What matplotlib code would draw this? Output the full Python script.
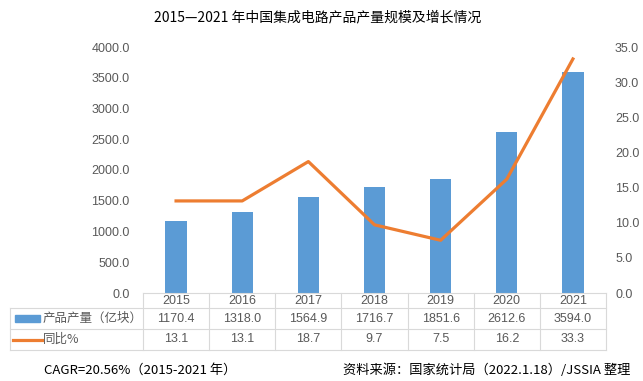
import matplotlib
matplotlib.use('Agg')
import matplotlib.pyplot as plt
import matplotlib.transforms as mtransforms
from matplotlib.lines import Line2D
from matplotlib.patches import Rectangle

plt.rcParams['font.family'] = ['Liberation Sans', 'Noto Sans CJK SC', 'DejaVu Sans']

years = ['2015', '2016', '2017', '2018', '2019', '2020', '2021']
output = [1170.4, 1318.0, 1564.9, 1716.7, 1851.6, 2612.6, 3594.0]
growth = [13.1, 13.1, 18.7, 9.7, 7.5, 16.2, 33.3]
output_label = '产品产量（亿块）'
growth_label = '同比%'

W, H = 643, 381
fig = plt.figure(figsize=(W / 100, H / 100), dpi=100)

def fx(px):
    return px / W

def fy(py):
    return 1 - py / H

bar_color = '#5B9BD5'
line_color = '#ED7D31'
tick_color = '#595959'
grid_color = '#D9D9D9'
cjk = ['Noto Sans CJK SC', 'DejaVu Sans']

ax = fig.add_axes([fx(143), fy(293), fx(606) - fx(143), fy(47) - fy(293)])
x = list(range(len(years)))
ax.bar(x, output, width=0.32, color=bar_color, zorder=2)
ax.set_xlim(-0.5, len(years) - 0.5)
ax.set_ylim(0, 4000)
ax.set_yticks(range(0, 4001, 500))
ax.set_yticklabels([f'{v:.1f}' for v in range(0, 4001, 500)])
ax.set_xticks([])
for s in ax.spines.values():
    s.set_visible(False)
ax.tick_params(axis='y', length=0, colors=tick_color, labelsize=9, pad=9.5)

ax2 = ax.twinx()
ax2.plot(x, growth, color=line_color, linewidth=2.3, zorder=3)
ax2.set_ylim(0, 35)
ax2.set_yticks(range(0, 36, 5))
ax2.set_yticklabels([f'{v:.1f}' for v in range(0, 36, 5)])
for s in ax2.spines.values():
    s.set_visible(False)
ax2.tick_params(axis='y', length=0, colors=tick_color, labelsize=9, pad=6.5)

# data table under the plot, columns follow the x data scale
trans = mtransforms.blended_transform_factory(ax.transData, fig.transFigure)
row_y = [fy(293), fy(308), fy(329), fy(350)]
left = fx(10)

def fig_x(xd):
    disp = ax.transData.transform((xd, 0))
    return fig.transFigure.inverted().transform(disp)[0]

right = fig_x(len(years) - 0.5)
ax_left = fig_x(-0.5)
lw = 0.8
fig.add_artist(Line2D([ax_left, right], [row_y[0], row_y[0]], color=grid_color, lw=lw))
for yy in row_y[1:]:
    fig.add_artist(Line2D([left, right], [yy, yy], color=grid_color, lw=lw))
fig.add_artist(Line2D([left, left], [row_y[1], row_y[3]], color=grid_color, lw=lw))
for i in range(len(years) + 1):
    xx = fig_x(i - 0.5)
    fig.add_artist(Line2D([xx, xx], [row_y[0], row_y[3]], color=grid_color, lw=lw))

txt_color = '#595959'
for i, yr in enumerate(years):
    ax.text(i, (row_y[0] + row_y[1]) / 2, yr, transform=trans, ha='center', va='center',
            fontsize=9, color=txt_color)
    ax.text(i, (row_y[1] + row_y[2]) / 2, f'{output[i]:.1f}', transform=trans, ha='center',
            va='center', fontsize=9, color=txt_color)
    ax.text(i, (row_y[2] + row_y[3]) / 2, f'{growth[i]:.1f}', transform=trans, ha='center',
            va='center', fontsize=9, color=txt_color)

# legend keys inside the table
r2 = (row_y[1] + row_y[2]) / 2
r3 = (row_y[2] + row_y[3]) / 2
fig.add_artist(Rectangle((fx(15), r2 - 3.5 / H), fx(25), 7 / H, color=bar_color))
fig.add_artist(Line2D([fx(13), fx(42)], [r3, r3], color=line_color, lw=2.3))
fig.text(fx(43), r2, output_label, ha='left', va='center', fontsize=9, color=txt_color, family=cjk)
fig.text(fx(43), r3, growth_label, ha='left', va='center', fontsize=9, color=txt_color, family=cjk)

fig.text(fx(318), fy(17), '2015—2021 年中国集成电路产品产量规模及增长情况', ha='center', va='center',
         fontsize=10, color='#000000', family=cjk)
fig.text(fx(44), fy(370), 'CAGR=20.56%（2015-2021 年）', ha='left', va='center',
         fontsize=9.5, color='#000000', family=cjk)
fig.text(fx(630), fy(370), '资料来源：国家统计局（2022.1.18）/JSSIA 整理', ha='right', va='center',
         fontsize=9.5, color='#000000', family=cjk)

fig.savefig('out.png', dpi=100, facecolor='white')
